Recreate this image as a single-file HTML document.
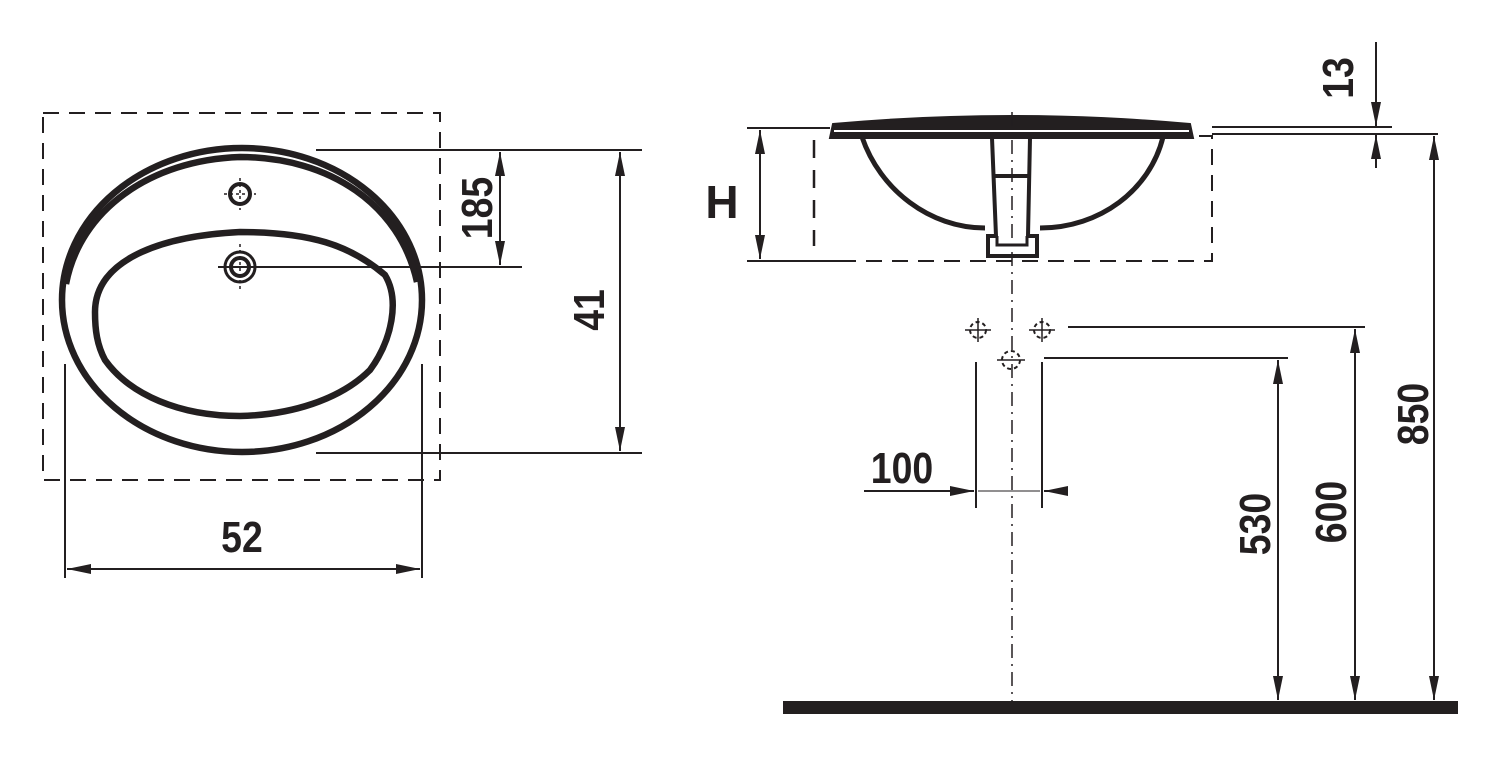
<!DOCTYPE html>
<html><head><meta charset="utf-8"><style>
html,body{margin:0;padding:0;background:#fff;}
svg{display:block}
text{font-family:"Liberation Sans Narrow","Liberation Sans",sans-serif;font-weight:bold;fill:#231f20;}
</style></head><body>
<svg width="1502" height="761" viewBox="0 0 1502 761" xmlns="http://www.w3.org/2000/svg">
<defs>
<marker id="b" viewBox="0 0 24 10" refX="24" refY="5" markerWidth="24" markerHeight="10" markerUnits="userSpaceOnUse" orient="auto-start-reverse"><path d="M0,0 L24,5 L0,10Z" fill="#231f20"/></marker>
</defs>
<g stroke="#231f20" fill="none">
<!-- LEFT VIEW -->
<rect x="43" y="113" width="397" height="367" stroke-width="2" stroke-dasharray="16,10"/>
<ellipse cx="242" cy="300" rx="180" ry="152" stroke-width="6.5"/>
<path d="M66,284 C80,210 150,160 240,157 C330,157 400,205 417,282" stroke-width="6.5"/>
<path d="M95,312 C95,260 160,236 240,232 C310,232 350,245 385,275 C400,300 392,340 370,370 C340,400 290,415 240,416 C180,416 130,395 105,360 C97,345 95,330 95,312Z" stroke-width="6.5"/>
<circle cx="240" cy="194" r="10" stroke-width="4"/>
<circle cx="240" cy="267" r="15" stroke-width="3"/>
<circle cx="240" cy="267" r="9" stroke-width="4"/>
<g stroke-width="1.5" stroke-dasharray="3,3"><line x1="240" y1="178" x2="240" y2="210"/><line x1="224" y1="194" x2="256" y2="194"/><line x1="240" y1="244" x2="240" y2="292"/></g>
<line x1="218" y1="267" x2="522" y2="267" stroke-width="2"/>
<line x1="316" y1="150" x2="642" y2="150" stroke-width="2"/>
<line x1="316" y1="453" x2="642" y2="453" stroke-width="2"/>
<line x1="65" y1="364" x2="65" y2="578" stroke-width="2"/>
<line x1="422" y1="364" x2="422" y2="578" stroke-width="2"/>
<line x1="67" y1="569" x2="420" y2="569" stroke-width="2" marker-start="url(#b)" marker-end="url(#b)"/>
<line x1="500" y1="152" x2="500" y2="265" stroke-width="2" marker-start="url(#b)" marker-end="url(#b)"/>
<line x1="620" y1="152" x2="620" y2="451" stroke-width="2" marker-start="url(#b)" marker-end="url(#b)"/>

<!-- RIGHT VIEW -->
<line x1="747" y1="128" x2="830" y2="128" stroke-width="2"/>
<line x1="747" y1="261" x2="840" y2="261" stroke-width="2"/>
<path d="M840,261 H1212 V136 H1196" stroke-width="2" stroke-dasharray="16,10"/>
<line x1="814" y1="140" x2="814" y2="246" stroke-width="2.5" stroke-dasharray="18,12"/>
<line x1="760" y1="130" x2="760" y2="259" stroke-width="2" marker-start="url(#b)" marker-end="url(#b)"/>
<path d="M833,124 C900,118 960,116 1012,116 C1080,116 1130,119 1190,124 L1193,138 L830,138 Z" stroke-width="2" fill="#231f20"/>
<line x1="834" y1="131" x2="1189" y2="131" stroke="#fff" stroke-width="2"/>
<path d="M862,137 C880,190 930,228 985,228" stroke-width="5"/>
<path d="M1163,137 C1150,190 1100,228 1040,228" stroke-width="5"/>
<path d="M992,138 L996,236 L988,236 L988,256 L1037,256 L1037,236 L1028,236 L1030,138" stroke-width="4"/>
<line x1="995" y1="176" x2="1030" y2="176" stroke-width="4"/>
<path d="M997,236 L997,245 L1027,245 L1027,236" stroke-width="3"/>
<line x1="1012" y1="112" x2="1012" y2="718" stroke-width="1.5" stroke-dasharray="14,6,2,6"/>
<line x1="1212" y1="127" x2="1392" y2="127" stroke-width="2"/>
<line x1="1212" y1="134" x2="1438" y2="134" stroke-width="2"/>
<line x1="1376" y1="42" x2="1376" y2="126" stroke-width="2" marker-end="url(#b)"/>
<line x1="1376" y1="168" x2="1376" y2="135" stroke-width="2" marker-end="url(#b)"/>
<line x1="1434" y1="136" x2="1434" y2="700" stroke-width="2" marker-start="url(#b)" marker-end="url(#b)"/>
<line x1="1068" y1="327" x2="1365" y2="327" stroke-width="2"/>
<line x1="1044" y1="358" x2="1288" y2="358" stroke-width="2"/>
<line x1="1355" y1="329" x2="1355" y2="700" stroke-width="2" marker-start="url(#b)" marker-end="url(#b)"/>
<line x1="1278" y1="360" x2="1278" y2="700" stroke-width="2" marker-start="url(#b)" marker-end="url(#b)"/>
<line x1="976" y1="362" x2="976" y2="508" stroke-width="2"/>
<line x1="1042" y1="362" x2="1042" y2="508" stroke-width="2"/>
<line x1="864" y1="491" x2="974" y2="491" stroke-width="2" marker-end="url(#b)"/>
<line x1="1066" y1="491" x2="1044" y2="491" stroke-width="2" marker-end="url(#b)"/>
<line x1="978" y1="491" x2="1040" y2="491" stroke-width="1"/>
<g stroke-width="2" stroke-dasharray="4,3">
<circle cx="978" cy="330" r="8"/><circle cx="1042" cy="330" r="8"/><circle cx="1011" cy="360" r="9"/>
</g>
<g stroke-width="1.5"><line x1="965" y1="330" x2="991" y2="330"/><line x1="978" y1="318" x2="978" y2="342"/><line x1="1029" y1="330" x2="1055" y2="330"/><line x1="1042" y1="318" x2="1042" y2="342"/><line x1="997" y1="360" x2="1025" y2="360"/></g>
</g>
<rect x="783" y="701" width="675" height="13" fill="#231f20"/>
<g font-size="44">
<text x="242" y="552" text-anchor="middle" transform="translate(242 0) scale(0.85 1) translate(-242 0)">52</text>
<text transform="translate(492 208) rotate(-90) scale(0.85 1)" text-anchor="middle">185</text>
<text transform="translate(604 310) rotate(-90) scale(0.85 1)" text-anchor="middle">41</text>
<text x="722" y="218" text-anchor="middle" font-size="46">H</text>
<text transform="translate(1353 78) rotate(-90) scale(0.85 1)" text-anchor="middle">13</text>
<text transform="translate(1428 414) rotate(-90) scale(0.85 1)" text-anchor="middle">850</text>
<text transform="translate(1346 512) rotate(-90) scale(0.85 1)" text-anchor="middle">600</text>
<text transform="translate(1270 524) rotate(-90) scale(0.85 1)" text-anchor="middle">530</text>
<text transform="translate(902 483) scale(0.85 1)" text-anchor="middle">100</text>
</g>
</svg>
</body></html>
